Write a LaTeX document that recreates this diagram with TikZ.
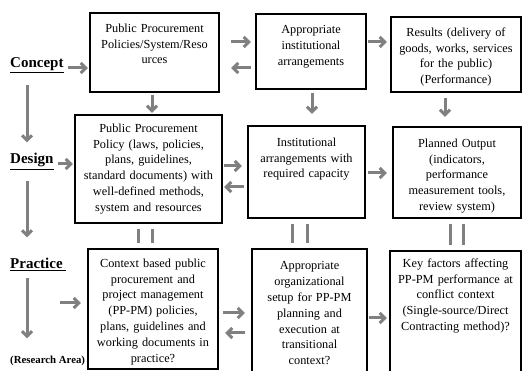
\documentclass[tikz,border=0pt]{standalone}
\usepackage{fontspec}
\setmainfont{Liberation Serif}
\usetikzlibrary{arrows.meta}
\definecolor{flowgray}{RGB}{128,128,128}

\begin{document}
\begin{tikzpicture}[x=1pt, y=-1pt,
        stage/.style={draw=black, line width=2.4pt},
        stagetext/.style={anchor=north, inner sep=0pt, align=center, font=\fontsize{12.3}{15.8}\selectfont},
        level/.style={anchor=base west, inner sep=0pt, font=\fontsize{15}{18}\selectfont\bfseries},
        link/.style={draw=flowgray, line width=3pt},
        flow/.style={link, -{Straight Barb[length=5pt, width=10pt]}}]

            \useasboundingbox (0,0) rectangle (523,371);
            \clip (0,0) rectangle (523,371);

            % levels on the left
            \node[level] (concept) at (10, 68) {\underline{Concept}};
            \node[level] (design) at (10, 164) {\underline{Design}};
            \node[level] (practice) at (10, 269) {\underline{Practice }};
            \node[level, font=\fontsize{10.8}{13}\selectfont\bfseries] (research) at (10, 364) {(Research Area)};
            \coordinate (spine) at (27, 0);

            % first row
            \node[stage, minimum width=129pt, minimum height=79pt] (pps) at (154.5, 52.5) {};
            \node[stagetext, text width=123pt] (ppsT) at (154.5, 23.5) {Public Procurement\\Policies/System/Reso\\urces};
            \node[stage, minimum width=110pt, minimum height=75pt] (inst) at (311, 51.5) {};
            \node[stagetext, text width=104pt] (instT) at (311, 25.5) {Appropriate\\institutional\\arrangements};
            \node[stage, minimum width=130pt, minimum height=75pt] (res) at (456, 54.5) {};
            \node[stagetext, text width=124pt] (resT) at (456, 27.5) {Results (delivery of\\goods, works, services\\for the public)\\(Performance)};

            % second row
            \node[stage, minimum width=147pt, minimum height=108pt] (pol) at (148.5, 169) {};
            \node[stagetext, text width=141pt] (polT) at (148.5, 123.5) {Public Procurement\\Policy (laws, policies,\\plans, guidelines,\\standard documents) with\\well-defined methods,\\system and resources};
            \node[stage, minimum width=117pt, minimum height=92pt] (cap) at (306.5, 172) {};
            \node[stagetext, text width=111pt] (capT) at (306.5, 137.5) {Institutional\\arrangements with\\required capacity};
            \node[stage, minimum width=128pt, minimum height=91pt] (out) at (457, 172.5) {};
            \node[stagetext, text width=122pt] (outT) at (457, 138.5) {Planned Output\\(indicators,\\performance\\measurement tools,\\review system)};

            % third row
            \node[stage, minimum width=130pt, minimum height=120pt] (ctx) at (153, 309) {};
            \node[stagetext, text width=124pt] (ctxT) at (153, 258.5) {Context based public\\procurement and\\project management\\(PP-PM) policies,\\plans, guidelines and\\working documents in\\practice?};
            \node[stage, minimum width=115pt, minimum height=131pt] (org) at (309.5, 314.5) {};
            \node[stagetext, text width=109pt] (orgT) at (309.5, 261.5) {Appropriate\\organizational\\setup for PP-PM\\planning and\\execution at\\transitional\\context?};
            \node[stage, minimum width=131pt, minimum height=129pt] (key) at (455.5, 315.5) {};
            \node[stagetext, text width=125pt] (keyT) at (455.5, 258.5) {Key factors affecting\\PP-PM performance at\\conflict context\\(Single-source/Direct\\Contracting method)?};

            % arrows down the levels
            \draw[flow, shorten <=12pt, shorten >=11pt] (spine |- concept.south) -- (spine |- design.north);
            \draw[flow, shorten <=11pt, shorten >=21pt] (spine |- design.south) -- (spine |- practice.north);
            \draw[flow, shorten <=7pt, shorten >=18pt] (spine |- practice.south) -- (spine |- research.north);

            % arrows of the first row
            \draw[flow, shorten <=4pt, shorten >=1pt] (concept.base east) -- (concept.base east -| pps.west);
            \draw[flow, shorten <=11pt, shorten >=4pt] ([yshift=10.5pt]pps.east) -- ([yshift=10.5pt]pps.east -| inst.west);
            \draw[flow, shorten <=4pt, shorten >=11pt] ([yshift=-16.5pt]inst.west) -- ([yshift=-16.5pt]inst.west -| pps.east);
            \draw[flow, shorten <=1pt, shorten >=3pt] ([yshift=9.5pt]inst.east) -- ([yshift=9.5pt]inst.east -| res.west);

            % arrows from the first row to the second
            \draw[flow, shorten <=1.5pt, shorten >=1pt] ([xshift=-2.5pt]pps.south) -- ([xshift=-2.5pt]pps.south |- pol.north);
            \draw[flow, shorten <=3pt, shorten >=11pt] ([xshift=1pt]inst.south) -- ([xshift=1pt]inst.south |- cap.north);
            \draw[flow, shorten <=5pt, shorten >=9pt] ([xshift=-11pt]res.south) -- ([xshift=-11pt]res.south |- out.north);

            % arrows of the second row
            \draw[flow, shorten <=4pt, shorten >=1pt] (design.base east) -- (design.base east -| pol.west);
            \draw[flow, shorten <=1pt, shorten >=5pt] ([yshift=3pt]pol.east) -- ([yshift=3pt]pol.east -| cap.west);
            \draw[flow, shorten <=3pt, shorten >=1pt] ([yshift=-15pt]cap.west) -- ([yshift=-15pt]cap.west -| pol.east);
            \draw[flow, shorten <=2pt, shorten >=5pt] ([yshift=-1pt]cap.east) -- ([yshift=-1pt]cap.east -| out.west);

            % double links from the second row to the third
            \foreach \a/\b/\s/\t in {pol/ctx/-10.5/3.5, cap/org/-14.5/0.5, out/key/-7/6}{
                    \draw[link, shorten <=5pt, shorten >=5pt] ([xshift=\s pt]\a.south) -- ([xshift=\s pt]\a.south |- \b.north);
                    \draw[link, shorten <=5pt, shorten >=5pt] ([xshift=\t pt]\a.south) -- ([xshift=\t pt]\a.south |- \b.north);
                }

            % arrows of the third row
            \coordinate (ctxIn) at (60, 303);
            \draw[flow, shorten >=6pt] (ctxIn) -- (ctxIn -| ctx.west);
            \draw[flow, shorten <=4pt, shorten >=6pt] ([yshift=-4pt]ctx.east) -- ([yshift=-4pt]ctx.east -| org.west);
            \draw[flow, shorten <=6pt, shorten >=6pt] ([yshift=-18.5pt]org.west) -- ([yshift=-18.5pt]org.west -| ctx.east);
            \draw[flow, shorten <=1pt, shorten >=2pt] ([yshift=-3.5pt]org.east) -- ([yshift=-3.5pt]org.east -| key.west);

        \end{tikzpicture}
\end{document}
